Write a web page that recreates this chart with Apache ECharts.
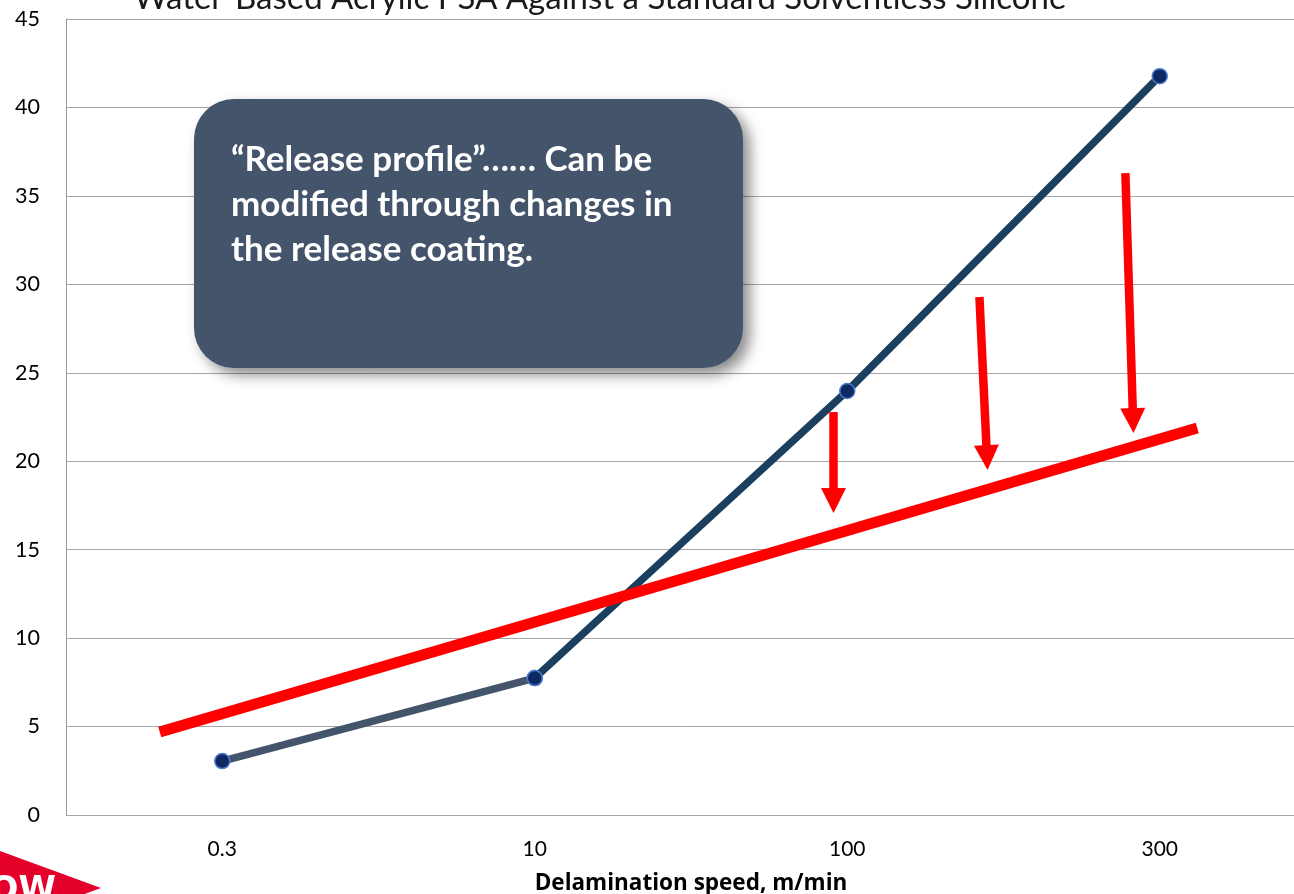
<!DOCTYPE html>
<html>
<head>
<meta charset="utf-8">
<title>Release profile</title>
<script src="https://cdn.jsdelivr.net/npm/echarts@6/dist/echarts.min.js"></script>
<style>
  html, body { margin: 0; padding: 0; background: #ffffff; overflow: hidden; }
  #chart { width: 1294px; height: 894px; }
</style>
</head>
<body>
<div id="chart"></div>
<script>
// Delamination speed categories (m/min)
const speedLabels = ['0.3', '10', '100', '300'];
// Measured release force at each speed
const releaseForce = [3.05, 7.74, 23.97, 41.77];
// Target profile line, [category position, force]
const targetProfile = [[-0.2, 4.69], [3.12, 21.88]];
// Reduction arrows: [x start, y start, x tip, y tip]
const reductionArrows = [
  [1.956, 22.78, 1.956, 17.07],
  [2.423, 29.28, 2.449, 19.50],
  [2.890, 36.29, 2.916, 21.59]
];
// Force axis range
const forceMin = 0, forceMax = 45, forceStep = 5;

const titleText = 'Water-Based Acrylic PSA Against a Standard Solventless Silicone';
const calloutText = '\u201CRelease profile\u201D\u2026\u2026 Can be\nmodified through changes in\nthe release coating.';

const FONT = 'Lato, "Open Sans", sans-serif';
const chart = echarts.init(document.getElementById('chart'));

const firstLeg = releaseForce.map((v, i) => (i <= 1 ? v : '-'));
const restLegs = releaseForce.map((v, i) => (i >= 1 ? v : '-'));

const markerStyle = { color: '#0E2862', borderColor: '#4A7BD0', borderWidth: 1.5 };

chart.setOption({
  animation: false,
  backgroundColor: '#ffffff',
  grid: { left: 66, top: 19, height: 796, width: 1250, outerBoundsMode: 'none', containLabel: false },
  xAxis: [
    {
      type: 'category',
      data: speedLabels,
      boundaryGap: true,
      axisLine: { show: false },
      axisTick: { show: false },
      axisLabel: { color: '#000', fontSize: 21, fontFamily: FONT, margin: 24 },
      name: 'Delamination speed, m/min',
      nameLocation: 'middle',
      nameGap: 57,
      nameTextStyle: { color: '#000', fontSize: 22.5, fontWeight: 'bold', fontFamily: '"Open Sans", sans-serif' }
    },
    { type: 'value', min: -0.5, max: 3.5, show: false }
  ],
  yAxis: {
    type: 'value',
    min: forceMin,
    max: forceMax,
    interval: forceStep,
    axisLine: { show: true, onZero: false, lineStyle: { color: '#999999', width: 1 } },
    axisTick: { show: false },
    axisLabel: { color: '#000', fontSize: 21.5, fontFamily: FONT, margin: 26 },
    splitLine: { show: true, lineStyle: { color: '#A6A6A6', width: 1 } }
  },
  series: [
    {
      type: 'line',
      data: firstLeg,
      lineStyle: { color: '#44546A', width: 7.5 },
      symbol: 'circle', symbolSize: 15, showSymbol: true,
      itemStyle: markerStyle,
      z: 2
    },
    {
      type: 'line',
      data: restLegs,
      lineStyle: { color: '#1B3F5F', width: 7.5 },
      symbol: 'circle', symbolSize: 15, showSymbol: true,
      itemStyle: markerStyle,
      z: 2
    },
    {
      type: 'line',
      xAxisIndex: 1,
      data: targetProfile,
      symbol: 'none',
      lineStyle: { color: '#FF0000', width: 11, cap: 'butt' },
      clip: false,
      z: 4
    },
    {
      type: 'custom',
      xAxisIndex: 1,
      data: reductionArrows,
      encode: { x: [0, 2], y: [1, 3] },
      clip: false,
      z: 5,
      renderItem: function (params, api) {
        const p0 = api.coord([api.value(0), api.value(1)]);
        const p1 = api.coord([api.value(2), api.value(3)]);
        const dx = p1[0] - p0[0], dy = p1[1] - p0[1];
        const len = Math.hypot(dx, dy);
        const ux = dx / len, uy = dy / len;
        const headLen = 25, headHalf = 12.5;
        const base = [p1[0] - ux * headLen, p1[1] - uy * headLen];
        return {
          type: 'group',
          children: [
            {
              type: 'line',
              shape: { x1: p0[0], y1: p0[1], x2: base[0] + ux, y2: base[1] + uy },
              style: { stroke: '#FF0000', lineWidth: 8.5 }
            },
            {
              type: 'polygon',
              shape: {
                points: [
                  p1,
                  [base[0] - uy * headHalf, base[1] + ux * headHalf],
                  [base[0] + uy * headHalf, base[1] - ux * headHalf]
                ]
              },
              style: { fill: '#FF0000' }
            }
          ]
        };
      }
    }
  ],
  graphic: [
    {
      type: 'text',
      z: 10,
      x: 600, y: 15,
      style: {
        text: titleText, fill: '#1a1a1a', fontSize: 33, fontFamily: FONT,
        align: 'center', verticalAlign: 'bottom'
      }
    },
    {
      type: 'rect',
      z: 20,
      shape: { x: 194, y: 99, width: 549, height: 269, r: 40 },
      style: {
        fill: '#44546A',
        shadowBlur: 14,
        shadowOffsetX: 7,
        shadowOffsetY: 7,
        shadowColor: 'rgba(0,0,0,0.45)'
      }
    },
    {
      type: 'text',
      z: 21,
      x: 231, y: 137,
      style: {
        text: calloutText,
        fill: '#ffffff',
        fontSize: 35,
        fontWeight: 'bold',
        fontFamily: FONT,
        lineHeight: 45
      }
    },
    {
      type: 'polygon',
      z: 30,
      shape: { points: [[-100, 888], [0, 851], [101, 888], [0, 925]] },
      style: { fill: '#E4002B' }
    },
    {
      type: 'text',
      z: 31,
      x: 56, y: 874,
      style: {
        text: 'DOW', fill: '#ffffff', fontSize: 34, fontWeight: 'bold',
        fontFamily: '"DejaVu Sans", sans-serif', align: 'right'
      }
    }
  ]
});
</script>
</body>
</html>
